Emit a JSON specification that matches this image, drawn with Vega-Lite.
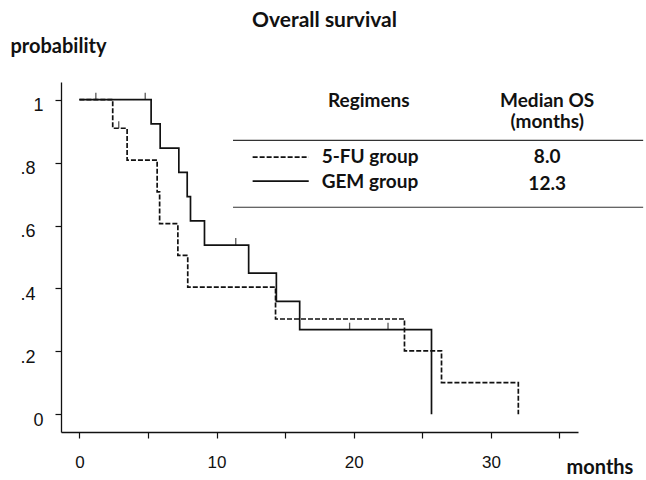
{
  "$schema": "https://vega.github.io/schema/vega-lite/v6.json",
  "autosize": {"type": "none"},
  "padding": {"left": 61, "top": 82, "right": 68, "bottom": 48},
  "width": 517,
  "height": 350,
  "background": "white",
  "title": {"text": "Overall survival", "anchor": "middle", "font": "Lato", "fontSize": 21, "fontWeight": "bold", "color": "#111", "offset": 5, "dx": 5},
  "config": {"view": {"stroke": null}},
  "datasets": {
    "km": [
      {"group": "5-FU group", "t": 0, "p": 1},
      {"group": "5-FU group", "t": 2.43, "p": 0.909},
      {"group": "5-FU group", "t": 3.48, "p": 0.808},
      {"group": "5-FU group", "t": 5.67, "p": 0.707},
      {"group": "5-FU group", "t": 5.85, "p": 0.606},
      {"group": "5-FU group", "t": 7.18, "p": 0.505},
      {"group": "5-FU group", "t": 7.9, "p": 0.404},
      {"group": "5-FU group", "t": 14.3, "p": 0.303},
      {"group": "5-FU group", "t": 23.7, "p": 0.202},
      {"group": "5-FU group", "t": 26.4, "p": 0.101},
      {"group": "5-FU group", "t": 32.0, "p": 0},
      {"group": "GEM group", "t": 0, "p": 1},
      {"group": "GEM group", "t": 5.23, "p": 0.923},
      {"group": "GEM group", "t": 5.89, "p": 0.846},
      {"group": "GEM group", "t": 7.25, "p": 0.769},
      {"group": "GEM group", "t": 7.86, "p": 0.692},
      {"group": "GEM group", "t": 8.1, "p": 0.615},
      {"group": "GEM group", "t": 9.12, "p": 0.538},
      {"group": "GEM group", "t": 12.34, "p": 0.449},
      {"group": "GEM group", "t": 14.36, "p": 0.359},
      {"group": "GEM group", "t": 16.06, "p": 0.269},
      {"group": "GEM group", "t": 25.67, "p": 0}
    ],
    "censor": [
      {"group": "GEM group", "t": 1.2, "p": 1},
      {"group": "GEM group", "t": 4.8, "p": 1},
      {"group": "5-FU group", "t": 2.87, "p": 0.909},
      {"group": "GEM group", "t": 11.4, "p": 0.538},
      {"group": "GEM group", "t": 19.7, "p": 0.269},
      {"group": "GEM group", "t": 22.5, "p": 0.269}
    ],
    "one": [{}]
  },
  "layer": [
    {
      "data": {"name": "km"},
      "mark": {"type": "line", "interpolate": "step-after", "color": "#111", "strokeWidth": 1.7},
      "encoding": {
        "x": {"field": "t", "type": "quantitative",
          "scale": {"domain": [-1.34, 36.35], "nice": false, "zero": false},
          "axis": {
            "title": "months", "titleFont": "Lato", "titleFontSize": 20, "titleFontWeight": "bold", "titleColor": "#111",
            "titleAlign": "left", "titleAnchor": "start", "titleBaseline": "alphabetic", "titleX": 505, "titleY": 41,
            "values": [0, 5, 10, 15, 20, 25, 30, 35],
            "labelExpr": "datum.value % 10 == 0 ? datum.label : ''",
            "labelFont": "Liberation Sans", "labelFontSize": 17, "labelColor": "#111", "labelPadding": 16,
            "labelFlush": false, "labelOverlap": false,
            "tickSize": 6, "tickColor": "#111", "tickWidth": 1.2,
            "domainColor": "#111", "domainWidth": 1.3, "grid": false
          }
        },
        "y": {"field": "p", "type": "quantitative",
          "scale": {"domain": [-0.056, 1.056], "nice": false, "zero": false},
          "axis": {
            "title": "probability", "titleFont": "Lato", "titleFontSize": 20, "titleFontWeight": "bold", "titleColor": "#111",
            "titleAngle": 0, "titleAlign": "left", "titleAnchor": "start", "titleBaseline": "alphabetic", "titleX": -51, "titleY": -30,
            "values": [0, 0.1, 0.2, 0.3, 0.4, 0.5, 0.6, 0.7, 0.8, 0.9, 1],
            "labelExpr": "abs(datum.value*5 - round(datum.value*5)) > 0.01 ? '' : (datum.value == 0 ? '0' : (datum.value == 1 ? '1' : replace(format(datum.value, '.1f'), '0.', '.')))",
            "labelFont": "Liberation Sans", "labelFontSize": 18, "labelColor": "#111",
            "labelPadding": {"condition": {"test": "datum.value == 0 || datum.value == 1", "value": 12}, "value": 20},
            "labelOffset": 6, "labelFlush": false, "labelOverlap": false,
            "tickSize": {"condition": {"test": "abs(datum.value*5 - round(datum.value*5)) > 0.01", "value": 4}, "value": 6},
            "tickColor": "#111", "tickWidth": 1.2,
            "domainColor": "#111", "domainWidth": 1.3, "grid": false
          }
        },
        "strokeDash": {"field": "group", "type": "nominal",
          "scale": {"domain": ["5-FU group", "GEM group"], "range": [[5, 2], [1, 0]]}, "legend": null}
      }
    },
    {
      "data": {"name": "censor"},
      "mark": {"type": "tick", "orient": "vertical", "size": 7, "thickness": 1.3, "yOffset": -3.5, "color": "#111"},
      "encoding": {
        "x": {"field": "t", "type": "quantitative"},
        "y": {"field": "p", "type": "quantitative"}
      }
    },
    {
      "data": {"name": "one"},
      "mark": {"type": "rule", "color": "#333", "strokeWidth": 1.2},
      "encoding": {"x": {"datum": 11.2}, "x2": {"datum": 41.1}, "y": {"datum": 0.8707}}
    },
    {
      "data": {"name": "one"},
      "mark": {"type": "rule", "color": "#333", "strokeWidth": 1.2},
      "encoding": {"x": {"datum": 11.2}, "x2": {"datum": 41.1}, "y": {"datum": 0.658}}
    },
    {
      "data": {"name": "one"},
      "mark": {"type": "rule", "color": "#111", "strokeWidth": 1.7, "strokeDash": [5, 2]},
      "encoding": {"x": {"datum": 12.63}, "x2": {"datum": 16.72}, "y": {"datum": 0.817}}
    },
    {
      "data": {"name": "one"},
      "mark": {"type": "rule", "color": "#111", "strokeWidth": 1.7},
      "encoding": {"x": {"datum": 12.63}, "x2": {"datum": 16.72}, "y": {"datum": 0.741}}
    },
    {
      "data": {"name": "one"},
      "mark": {"type": "text", "font": "Lato", "fontSize": 19, "fontWeight": "bold", "color": "#111", "align": "center", "baseline": "middle"},
      "encoding": {"x": {"datum": 21.1}, "y": {"datum": 0.9946}, "text": {"value": "Regimens"}}
    },
    {
      "data": {"name": "one"},
      "mark": {"type": "text", "font": "Lato", "fontSize": 19, "fontWeight": "bold", "color": "#111", "align": "center", "baseline": "middle"},
      "encoding": {"x": {"datum": 34.1}, "y": {"datum": 0.9946}, "text": {"value": "Median OS"}}
    },
    {
      "data": {"name": "one"},
      "mark": {"type": "text", "font": "Lato", "fontSize": 19, "fontWeight": "bold", "color": "#111", "align": "center", "baseline": "middle"},
      "encoding": {"x": {"datum": 34.1}, "y": {"datum": 0.929}, "text": {"value": "(months)"}}
    },
    {
      "data": {"name": "one"},
      "mark": {"type": "text", "font": "Lato", "fontSize": 19, "fontWeight": "bold", "color": "#111", "align": "left", "baseline": "middle"},
      "encoding": {"x": {"datum": 17.66}, "y": {"datum": 0.817}, "text": {"value": "5-FU group"}}
    },
    {
      "data": {"name": "one"},
      "mark": {"type": "text", "font": "Lato", "fontSize": 19, "fontWeight": "bold", "color": "#111", "align": "left", "baseline": "middle"},
      "encoding": {"x": {"datum": 17.66}, "y": {"datum": 0.737}, "text": {"value": "GEM group"}}
    },
    {
      "data": {"name": "one"},
      "mark": {"type": "text", "font": "Lato", "fontSize": 19, "fontWeight": "bold", "color": "#111", "align": "center", "baseline": "middle"},
      "encoding": {"x": {"datum": 34.1}, "y": {"datum": 0.819}, "text": {"value": "8.0"}}
    },
    {
      "data": {"name": "one"},
      "mark": {"type": "text", "font": "Lato", "fontSize": 19, "fontWeight": "bold", "color": "#111", "align": "center", "baseline": "middle"},
      "encoding": {"x": {"datum": 34.1}, "y": {"datum": 0.732}, "text": {"value": "12.3"}}
    }
  ]
}
